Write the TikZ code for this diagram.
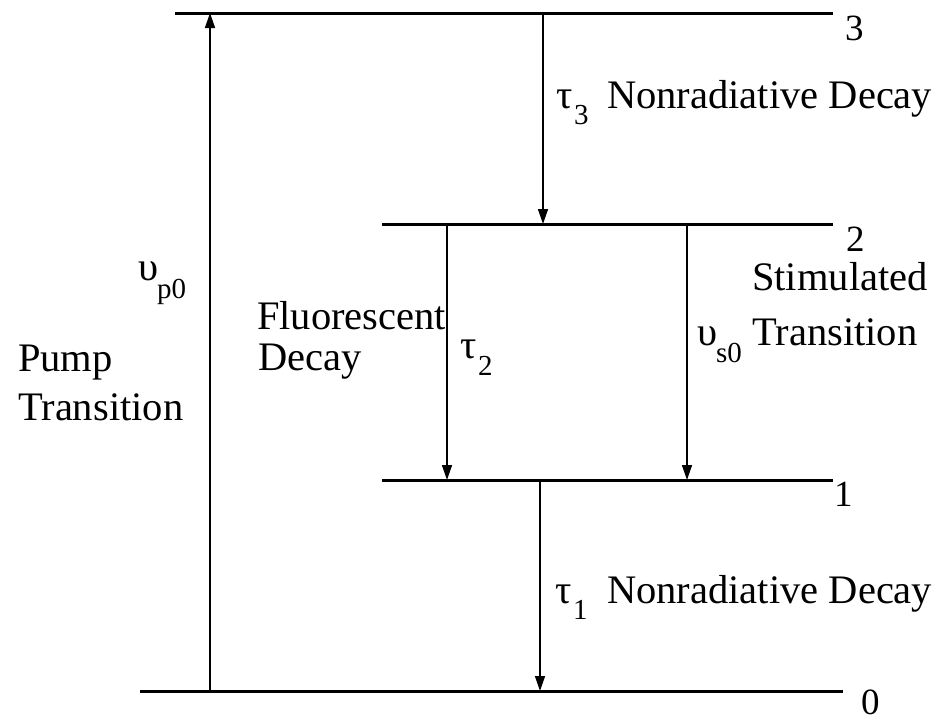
\documentclass[tikz,border=0pt]{standalone}
\usepackage{fontspec}
\setmainfont{Liberation Serif}
\usetikzlibrary{arrows.meta}
\begin{document}
\begin{tikzpicture}[x=1pt,y=-1pt,
  level/.style={line width=3pt},
  trans/.style={line width=1.5pt,-{Triangle[width=10pt,length=15pt]}},
  lbl/.style={anchor=base west,inner sep=0pt,font=\fontsize{40.5}{46}\selectfont},
  sub/.style={anchor=base west,inner sep=0pt,font=\fontsize{29}{32}\selectfont},
  num/.style={anchor=base west,inner sep=0pt,font=\fontsize{37}{42}\selectfont}]
\useasboundingbox (0,0) rectangle (945,723);
% energy levels
\coordinate (L3a) at (175,13);  \coordinate (L3b) at (833,13);
\coordinate (L2a) at (382,224); \coordinate (L2b) at (833,224);
\coordinate (L1a) at (382,480); \coordinate (L1b) at (833,480);
\coordinate (L0a) at (140,691); \coordinate (L0b) at (843,691);
\draw[level] (L3a) -- (L3b);
\draw[level] (L2a) -- (L2b);
\draw[level] (L1a) -- (L1b);
\draw[level] (L0a) -- (L0b);
\node[num] (n3) at (845,40) {3};
\node[num] (n2) at (846,251) {2};
\node[num] (n1) at (834,506) {1};
\node[num] (n0) at (861,714) {0};
% transition end points
\coordinate (pb) at (210,691); \coordinate (pt) at (210,13);
\coordinate (d3t) at (543,13);  \coordinate (d3b) at (543,224);
\coordinate (ft) at (447,224);  \coordinate (fb) at (447,480);
\coordinate (st) at (687,224);  \coordinate (sb) at (687,480);
\coordinate (d1t) at (540,480); \coordinate (d1b) at (540,691);
\draw[trans] (pb) -- (pt);
\draw[trans] (d3t) -- (d3b);
\draw[trans] (ft) -- (fb);
\draw[trans] (st) -- (sb);
\draw[trans] (d1t) -- (d1b);
% labels
\node[lbl] (t3) at (556,108) {τ};
\node[sub] (t3s) at (574,124) {3};
\node[lbl] (nr3) at (607,108) {Nonradiative Decay};
\node[lbl] (t1) at (555,603) {τ};
\node[sub] (t1s) at (573,619) {1};
\node[lbl] (nr1) at (607,603) {Nonradiative Decay};
\node[lbl] (vp) at (138,280) {υ};
\node[sub] (vps) at (157,298) {p0};
\node[lbl] (pump) at (18,371) {Pump};
\node[lbl] (ptr) at (18,420) {Transition};
\node[lbl] (fl) at (257,329) {Fluorescent};
\node[lbl] (fd) at (258,370) {Decay};
\node[lbl] (t2) at (460,358) {τ};
\node[sub] (t2s) at (478,375) {2};
\node[lbl] (stim) at (752,290) {Stimulated};
\node[lbl] (vs) at (697,345) {υ};
\node[sub] (vss) at (716,362) {s0};
\node[lbl] (str) at (752,345) {Transition};
\end{tikzpicture}
\end{document}
